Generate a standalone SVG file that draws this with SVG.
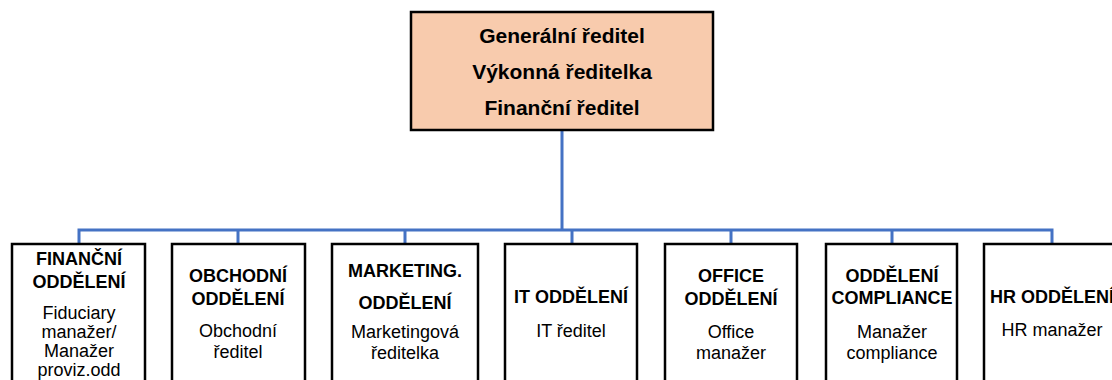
<svg xmlns="http://www.w3.org/2000/svg" width="1112" height="380" viewBox="0 0 1112 380">
<style>
  .box { fill: #ffffff; stroke: #000000; stroke-width: 2.5; }
  .top { fill: #F8CBAD; stroke: #000000; stroke-width: 2.5; }
  .conn { fill: none; stroke: #4472C4; stroke-width: 3; }
  text { font-family: "Liberation Sans", Arial, sans-serif; text-anchor: middle; fill: #000000; }
  .h { font-weight: bold; font-size: 18px; }
  .b { font-size: 18px; }
  .t { font-weight: bold; font-size: 21px; }
</style>
<rect width="1112" height="380" fill="#ffffff"/>
<g id="connectors">
  <path class="conn" d="M562,130 V230 M79,243 V230 H1052 V243 M238,230 V243 M405,230 V243 M572,230 V243 M731,230 V243 M892,230 V243"/>
</g>
<g id="top">
  <rect class="top" x="411" y="12" width="302" height="118"/>
  <text class="t" x="562" y="43">Generální ředitel</text>
  <text class="t" x="562" y="79">Výkonná ředitelka</text>
  <text class="t" x="562" y="115">Finanční ředitel</text>
</g>
<g id="financni">
  <rect class="box" x="12" y="244" width="133" height="160"/>
  <text class="h" x="79" y="265">FINANČNÍ</text>
  <text class="h" x="79" y="288">ODDĚLENÍ</text>
  <text class="b" x="79" y="319">Fiduciary</text>
  <text class="b" x="79" y="338">manažer/</text>
  <text class="b" x="79" y="357">Manažer</text>
  <text class="b" x="79" y="376">proviz.odd</text>
</g>
<g id="obchodni">
  <rect class="box" x="172" y="244" width="133" height="160"/>
  <text class="h" x="238" y="282">OBCHODNÍ</text>
  <text class="h" x="238" y="305">ODDĚLENÍ</text>
  <text class="b" x="238" y="337">Obchodní</text>
  <text class="b" x="238" y="358">ředitel</text>
</g>
<g id="marketing">
  <rect class="box" x="332" y="244" width="146" height="160"/>
  <text class="h" x="405" y="277">MARKETING.</text>
  <text class="h" x="405" y="309">ODDĚLENÍ</text>
  <text class="b" x="405" y="338">Marketingová</text>
  <text class="b" x="405" y="359">ředitelka</text>
</g>
<g id="it">
  <rect class="box" x="505" y="244" width="132" height="160"/>
  <text class="h" x="571" y="303">IT ODDĚLENÍ</text>
  <text class="b" x="571" y="337">IT ředitel</text>
</g>
<g id="office">
  <rect class="box" x="665" y="244" width="132" height="160"/>
  <text class="h" x="731" y="282">OFFICE</text>
  <text class="h" x="731" y="305">ODDĚLENÍ</text>
  <text class="b" x="731" y="338">Office</text>
  <text class="b" x="731" y="359">manažer</text>
</g>
<g id="compliance">
  <rect class="box" x="826" y="244" width="131" height="160"/>
  <text class="h" x="892" y="282">ODDĚLENÍ</text>
  <text class="h" x="892" y="304">COMPLIANCE</text>
  <text class="b" x="892" y="338">Manažer</text>
  <text class="b" x="892" y="359">compliance</text>
</g>
<g id="hr">
  <rect class="box" x="984" y="244" width="136" height="160"/>
  <text class="h" x="1052" y="303">HR ODDĚLENÍ</text>
  <text class="b" x="1052" y="336">HR manažer</text>
</g>
</svg>
